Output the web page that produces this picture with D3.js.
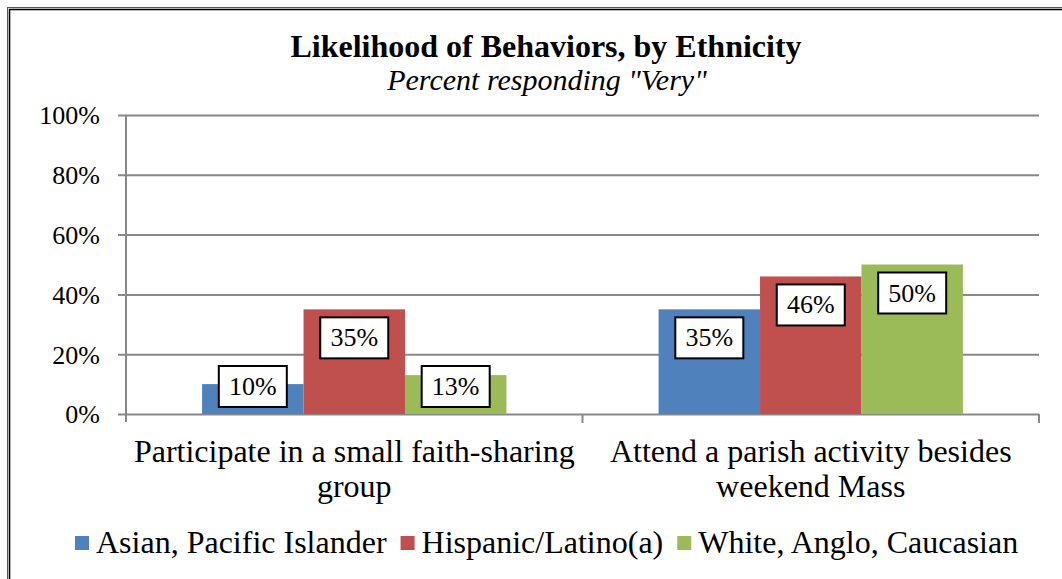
<!DOCTYPE html>
<html>
<head>
<meta charset="utf-8">
<script src="https://cdn.jsdelivr.net/npm/d3@7"></script>
<style>
  html, body { margin: 0; padding: 0; background: #fff; }
  svg { display: block; font-family: "Liberation Serif", "Times New Roman", serif; }
</style>
</head>
<body>
<svg id="chart" width="1062" height="579"></svg>
<script>
const title = "Likelihood of Behaviors, by Ethnicity";
const subtitle = 'Percent responding "Very"';
const categories = ["Participate in a small faith-sharing group", "Attend a parish activity besides weekend Mass"];
const seriesNames = ["Asian, Pacific Islander", "Hispanic/Latino(a)", "White, Anglo, Caucasian"];
const seriesColors = ["#4f81bd", "#c0504d", "#9bbb59"];
const asianValues = [0.10, 0.35];
const hispanicValues = [0.35, 0.46];
const whiteValues = [0.13, 0.50];
const yTicks = [0, 0.2, 0.4, 0.6, 0.8, 1.0];

const seriesValues = [asianValues, hispanicValues, whiteValues];

const svg = d3.select("#chart");
const W = 1062, H = 579;
const plot = { left: 126, right: 1039, top: 115, bottom: 414 };

// outer border (double line)
svg.append("rect").attr("x", 7.5).attr("y", 7.5).attr("width", W + 20).attr("height", H + 20)
  .attr("fill", "none").attr("stroke", "#555").attr("stroke-width", 1);
svg.append("rect").attr("x", 9.5).attr("y", 9.5).attr("width", W + 20).attr("height", H + 20)
  .attr("fill", "none").attr("stroke", "#000").attr("stroke-width", 1.6);

const y = d3.scaleLinear().domain([0, 1]).range([plot.bottom, plot.top]);
const x0 = d3.scaleBand().domain(categories).range([plot.left, plot.right]).padding(0);
const x1 = d3.scaleBand().domain(seriesNames).range([0, x0.bandwidth()]).paddingInner(0).paddingOuter(0.75);

// gridlines + y axis
const yAxis = d3.axisLeft(y).tickValues(yTicks).tickFormat(d3.format(".0%"))
  .tickSize(-(plot.right - plot.left)).tickPadding(0);
const gy = svg.append("g").attr("transform", `translate(${plot.left},0)`).call(yAxis);
gy.select(".domain").remove();
gy.selectAll(".tick line").attr("stroke", "#888").attr("stroke-width", 2).attr("x1", -8);
gy.selectAll(".tick text").attr("x", -26).attr("dy", "0.34em")
  .attr("font-size", 26).attr("fill", "#000").attr("font-family", "Liberation Serif");

// y axis line
svg.append("line").attr("x1", plot.left).attr("x2", plot.left)
  .attr("y1", plot.top).attr("y2", plot.bottom + 8).attr("stroke", "#888").attr("stroke-width", 2);

// category tick marks
const catBounds = categories.map(c => x0(c) + x0.bandwidth());
svg.selectAll(".cattick").data(catBounds).join("line")
  .attr("x1", d => d).attr("x2", d => d).attr("y1", plot.bottom).attr("y2", plot.bottom + 9)
  .attr("stroke", "#888").attr("stroke-width", 2);

// bars
const rows = [];
categories.forEach((c, ci) => {
  seriesNames.forEach((s, si) => rows.push({ c, s, si, v: seriesValues[si][ci] }));
});
svg.append("g").selectAll("rect").data(rows).join("rect")
  .attr("x", d => x0(d.c) + x1(d.s))
  .attr("y", d => y(d.v))
  .attr("width", x1.bandwidth())
  .attr("height", d => y(0) - y(d.v))
  .attr("fill", d => seriesColors[d.si]);

// data labels
const boxW = 68, boxH = 41;
const lab = svg.append("g").selectAll("g").data(rows).join("g")
  .attr("transform", d => {
    const cx = x0(d.c) + x1(d.s) + x1.bandwidth() / 2;
    const top = Math.min(y(d.v) + 8, plot.bottom - 7 - boxH);
    return `translate(${cx},${top})`;
  });
lab.append("rect").attr("x", -boxW / 2).attr("y", 0).attr("width", boxW).attr("height", boxH)
  .attr("fill", "#fff").attr("stroke", "#000").attr("stroke-width", 2);
lab.append("text").attr("x", 0).attr("y", 29).attr("text-anchor", "middle")
  .attr("font-size", 26).text(d => d3.format(".0%")(d.v));

// category labels (wrapped)
const catFont = 32;
categories.forEach(c => {
  const cx = x0(c) + x0.bandwidth() / 2;
  const t = svg.append("text").attr("text-anchor", "middle").attr("font-size", catFont);
  const words = c.split(" ");
  let lines = [], line = [];
  const probe = svg.append("text").attr("font-size", catFont);
  words.forEach(w => {
    const test = line.concat([w]).join(" ");
    probe.text(test);
    if (probe.node().getComputedTextLength() > x0.bandwidth() - 6 && line.length) {
      lines.push(line.join(" ")); line = [w];
    } else line.push(w);
  });
  lines.push(line.join(" "));
  probe.remove();
  lines.forEach((l, i) => t.append("tspan").attr("x", cx).attr("y", 462 + i * 35).text(l));
});

// title
svg.append("text").attr("x", 546).attr("y", 57).attr("text-anchor", "middle")
  .attr("font-size", 32).attr("font-weight", "bold").text(title);
svg.append("text").attr("x", 547).attr("y", 90).attr("text-anchor", "middle")
  .attr("font-size", 30).attr("font-style", "italic").text(subtitle);

// legend
const leg = svg.append("g");
let lx = 75;
seriesNames.forEach((s, i) => {
  leg.append("rect").attr("x", lx).attr("y", 536).attr("width", 14).attr("height", 14).attr("fill", seriesColors[i]);
  const t = leg.append("text").attr("x", lx + 21).attr("y", 553).attr("font-size", 32)
    .attr("textLength", null).text(s);
  lx += 21 + t.node().getComputedTextLength() + 14;
});
</script>
</body>
</html>
